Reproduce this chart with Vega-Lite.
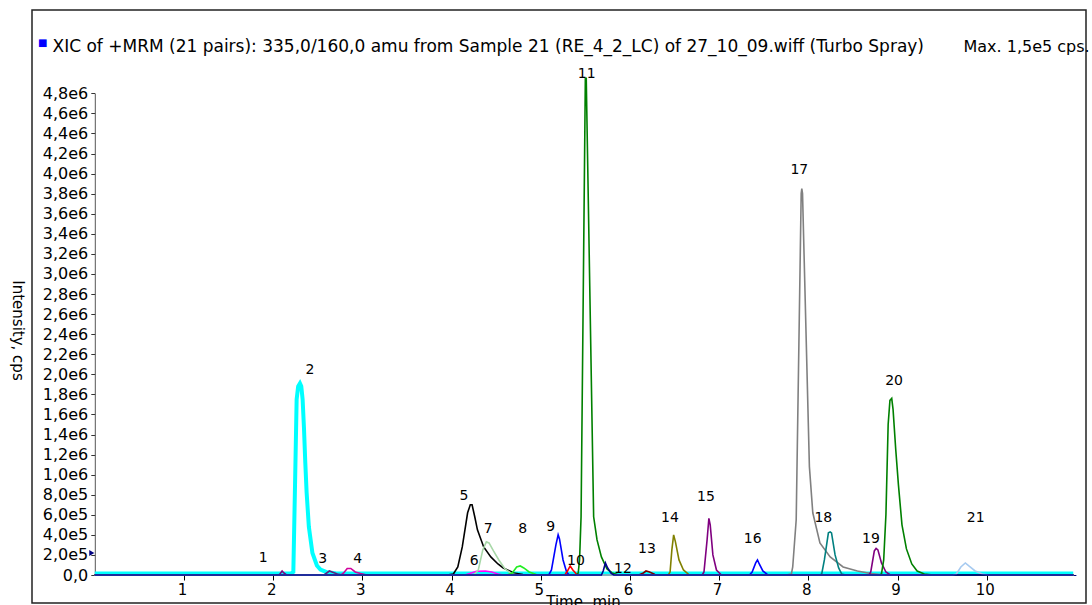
{
  "$schema": "https://vega.github.io/schema/vega-lite/v6.json",
  "width": 1054,
  "height": 593,
  "autosize": {"type": "none"},
  "padding": {"left": 32, "top": 10, "right": 6, "bottom": 2},
  "background": "white",
  "config": {"view": {"stroke": "#222222", "strokeWidth": 1.5}, "font": "DejaVu Sans"},
  "title": {"text": "■", "anchor": "start", "frame": "group", "orient": "top", "offset": 0, "dx": 6, "dy": 38, "fontSize": 10, "fontWeight": "normal", "color": "#0000FF"},
  "datasets": {
    "traces": [
      {"p":"2","t":0,"v":15000},{"p":"2","t":2.20,"v":15000},{"p":"2","t":2.226,"v":30000},{"p":"2","t":2.245,"v":900000},{"p":"2","t":2.263,"v":1750000},{"p":"2","t":2.28,"v":1880000},{"p":"2","t":2.30,"v":1910000},{"p":"2","t":2.315,"v":1880000},{"p":"2","t":2.33,"v":1750000},{"p":"2","t":2.345,"v":1470000},{"p":"2","t":2.36,"v":1120000},{"p":"2","t":2.375,"v":820000},{"p":"2","t":2.40,"v":480000},{"p":"2","t":2.44,"v":220000},{"p":"2","t":2.49,"v":95000},{"p":"2","t":2.53,"v":55000},{"p":"2","t":2.60,"v":28000},{"p":"2","t":2.70,"v":18000},{"p":"2","t":2.80,"v":15000},{"p":"2","t":10.97,"v":15000},
      {"p":"1","t":0,"v":0},{"p":"1","t":2.06,"v":0},{"p":"1","t":2.08,"v":15000},{"p":"1","t":2.10,"v":40000},{"p":"1","t":2.12,"v":20000},{"p":"1","t":2.15,"v":0},{"p":"1","t":10.97,"v":0},
      {"p":"3","t":0,"v":0},{"p":"3","t":2.57,"v":0},{"p":"3","t":2.60,"v":20000},{"p":"3","t":2.63,"v":40000},{"p":"3","t":2.66,"v":30000},{"p":"3","t":2.72,"v":10000},{"p":"3","t":2.78,"v":0},{"p":"3","t":10.97,"v":0},
      {"p":"4","t":0,"v":0},{"p":"4","t":2.76,"v":0},{"p":"4","t":2.79,"v":20000},{"p":"4","t":2.83,"v":65000},{"p":"4","t":2.87,"v":65000},{"p":"4","t":2.92,"v":30000},{"p":"4","t":2.98,"v":15000},{"p":"4","t":3.05,"v":0},{"p":"4","t":10.97,"v":0},
      {"p":"5","t":0,"v":0},{"p":"5","t":3.95,"v":0},{"p":"5","t":4.02,"v":10000},{"p":"5","t":4.07,"v":80000},{"p":"5","t":4.12,"v":280000},{"p":"5","t":4.18,"v":620000},{"p":"5","t":4.21,"v":700000},{"p":"5","t":4.23,"v":700000},{"p":"5","t":4.26,"v":580000},{"p":"5","t":4.29,"v":450000},{"p":"5","t":4.36,"v":280000},{"p":"5","t":4.44,"v":180000},{"p":"5","t":4.52,"v":110000},{"p":"5","t":4.58,"v":70000},{"p":"5","t":4.70,"v":20000},{"p":"5","t":4.80,"v":5000},{"p":"5","t":4.90,"v":0},{"p":"5","t":10.97,"v":0},
      {"p":"6","t":0,"v":0},{"p":"6","t":4.15,"v":0},{"p":"6","t":4.22,"v":20000},{"p":"6","t":4.28,"v":38000},{"p":"6","t":4.38,"v":40000},{"p":"6","t":4.45,"v":30000},{"p":"6","t":4.52,"v":10000},{"p":"6","t":4.58,"v":0},{"p":"6","t":10.97,"v":0},
      {"p":"7","t":0,"v":0},{"p":"7","t":4.25,"v":0},{"p":"7","t":4.30,"v":50000},{"p":"7","t":4.35,"v":250000},{"p":"7","t":4.39,"v":330000},{"p":"7","t":4.42,"v":320000},{"p":"7","t":4.47,"v":240000},{"p":"7","t":4.53,"v":150000},{"p":"7","t":4.60,"v":60000},{"p":"7","t":4.68,"v":10000},{"p":"7","t":4.75,"v":0},{"p":"7","t":10.97,"v":0},
      {"p":"8","t":0,"v":0},{"p":"8","t":4.62,"v":0},{"p":"8","t":4.68,"v":20000},{"p":"8","t":4.73,"v":80000},{"p":"8","t":4.77,"v":90000},{"p":"8","t":4.81,"v":70000},{"p":"8","t":4.87,"v":30000},{"p":"8","t":4.95,"v":5000},{"p":"8","t":5.00,"v":0},{"p":"8","t":10.97,"v":0},
      {"p":"9","t":0,"v":0},{"p":"9","t":5.09,"v":0},{"p":"9","t":5.12,"v":50000},{"p":"9","t":5.17,"v":300000},{"p":"9","t":5.195,"v":400000},{"p":"9","t":5.21,"v":360000},{"p":"9","t":5.25,"v":150000},{"p":"9","t":5.29,"v":30000},{"p":"9","t":5.32,"v":0},{"p":"9","t":10.97,"v":0},
      {"p":"10","t":0,"v":0},{"p":"10","t":5.27,"v":0},{"p":"10","t":5.30,"v":40000},{"p":"10","t":5.33,"v":90000},{"p":"10","t":5.36,"v":50000},{"p":"10","t":5.40,"v":10000},{"p":"10","t":5.45,"v":0},{"p":"10","t":10.97,"v":0},
      {"p":"11","t":0,"v":0},{"p":"11","t":5.40,"v":0},{"p":"11","t":5.42,"v":20000},{"p":"11","t":5.435,"v":150000},{"p":"11","t":5.452,"v":580000},{"p":"11","t":5.50,"v":4950000},{"p":"11","t":5.51,"v":4950000},{"p":"11","t":5.593,"v":580000},{"p":"11","t":5.631,"v":350000},{"p":"11","t":5.68,"v":180000},{"p":"11","t":5.743,"v":60000},{"p":"11","t":5.80,"v":20000},{"p":"11","t":5.86,"v":5000},{"p":"11","t":5.95,"v":0},{"p":"11","t":10.97,"v":0},
      {"p":"13","t":0,"v":0},{"p":"13","t":6.10,"v":0},{"p":"13","t":6.15,"v":20000},{"p":"13","t":6.18,"v":40000},{"p":"13","t":6.22,"v":30000},{"p":"13","t":6.28,"v":5000},{"p":"13","t":6.33,"v":0},{"p":"13","t":10.97,"v":0},
      {"p":"14","t":0,"v":0},{"p":"14","t":6.43,"v":0},{"p":"14","t":6.45,"v":30000},{"p":"14","t":6.47,"v":250000},{"p":"14","t":6.49,"v":400000},{"p":"14","t":6.51,"v":330000},{"p":"14","t":6.55,"v":150000},{"p":"14","t":6.60,"v":50000},{"p":"14","t":6.66,"v":5000},{"p":"14","t":6.70,"v":0},{"p":"14","t":10.97,"v":0},
      {"p":"15","t":0,"v":0},{"p":"15","t":6.81,"v":0},{"p":"15","t":6.83,"v":30000},{"p":"15","t":6.865,"v":350000},{"p":"15","t":6.885,"v":565000},{"p":"15","t":6.90,"v":500000},{"p":"15","t":6.93,"v":200000},{"p":"15","t":6.97,"v":50000},{"p":"15","t":7.02,"v":5000},{"p":"15","t":7.06,"v":0},{"p":"15","t":10.97,"v":0},
      {"p":"16","t":0,"v":0},{"p":"16","t":7.34,"v":0},{"p":"16","t":7.37,"v":30000},{"p":"16","t":7.41,"v":120000},{"p":"16","t":7.43,"v":150000},{"p":"16","t":7.45,"v":110000},{"p":"16","t":7.49,"v":40000},{"p":"16","t":7.54,"v":5000},{"p":"16","t":7.58,"v":0},{"p":"16","t":10.97,"v":0},
      {"p":"17","t":0,"v":0},{"p":"17","t":7.75,"v":0},{"p":"17","t":7.81,"v":10000},{"p":"17","t":7.825,"v":80000},{"p":"17","t":7.864,"v":550000},{"p":"17","t":7.92,"v":3800000},{"p":"17","t":7.927,"v":3850000},{"p":"17","t":7.935,"v":3800000},{"p":"17","t":8.012,"v":1080000},{"p":"17","t":8.05,"v":620000},{"p":"17","t":8.13,"v":320000},{"p":"17","t":8.245,"v":180000},{"p":"17","t":8.39,"v":80000},{"p":"17","t":8.55,"v":40000},{"p":"17","t":8.70,"v":15000},{"p":"17","t":8.85,"v":0},{"p":"17","t":10.97,"v":0},
      {"p":"18","t":0,"v":0},{"p":"18","t":8.13,"v":0},{"p":"18","t":8.15,"v":10000},{"p":"18","t":8.18,"v":150000},{"p":"18","t":8.225,"v":420000},{"p":"18","t":8.245,"v":430000},{"p":"18","t":8.26,"v":420000},{"p":"18","t":8.30,"v":200000},{"p":"18","t":8.34,"v":70000},{"p":"18","t":8.375,"v":10000},{"p":"18","t":8.42,"v":0},{"p":"18","t":10.97,"v":0},
      {"p":"19","t":0,"v":0},{"p":"19","t":8.68,"v":0},{"p":"19","t":8.70,"v":30000},{"p":"19","t":8.74,"v":240000},{"p":"19","t":8.76,"v":265000},{"p":"19","t":8.78,"v":250000},{"p":"19","t":8.82,"v":120000},{"p":"19","t":8.87,"v":30000},{"p":"19","t":8.92,"v":0},{"p":"19","t":10.97,"v":0},
      {"p":"20","t":0,"v":0},{"p":"20","t":8.80,"v":0},{"p":"20","t":8.82,"v":10000},{"p":"20","t":8.845,"v":150000},{"p":"20","t":8.87,"v":600000},{"p":"20","t":8.895,"v":1500000},{"p":"20","t":8.915,"v":1740000},{"p":"20","t":8.935,"v":1760000},{"p":"20","t":8.95,"v":1650000},{"p":"20","t":8.98,"v":1250000},{"p":"20","t":9.01,"v":900000},{"p":"20","t":9.05,"v":500000},{"p":"20","t":9.10,"v":260000},{"p":"20","t":9.16,"v":110000},{"p":"20","t":9.22,"v":40000},{"p":"20","t":9.30,"v":10000},{"p":"20","t":9.40,"v":0},{"p":"20","t":10.97,"v":0},
      {"p":"21","t":0,"v":0},{"p":"21","t":9.62,"v":0},{"p":"21","t":9.66,"v":10000},{"p":"21","t":9.71,"v":80000},{"p":"21","t":9.76,"v":120000},{"p":"21","t":9.80,"v":90000},{"p":"21","t":9.87,"v":40000},{"p":"21","t":9.95,"v":10000},{"p":"21","t":10.02,"v":0},{"p":"21","t":10.97,"v":0},
      {"p":"12","t":0,"v":0},{"p":"12","t":5.68,"v":0},{"p":"12","t":5.70,"v":40000},{"p":"12","t":5.725,"v":120000},{"p":"12","t":5.75,"v":70000},{"p":"12","t":5.79,"v":15000},{"p":"12","t":5.82,"v":0},{"p":"12","t":10.97,"v":0}
    ],
    "labels": [
      {"p":"1","t":1.889,"v":166000},{"p":"2","t":2.413,"v":2040000},{"p":"3","t":2.555,"v":159000},{"p":"4","t":2.948,"v":159000},
      {"p":"5","t":4.14,"v":790000},{"p":"6","t":4.254,"v":144000},{"p":"7","t":4.412,"v":458000},{"p":"8","t":4.798,"v":455000},
      {"p":"9","t":5.112,"v":475000},{"p":"10","t":5.395,"v":139000},{"p":"11","t":5.515,"v":4990000},{"p":"12","t":5.922,"v":57000},
      {"p":"13","t":6.191,"v":256000},{"p":"14","t":6.449,"v":565000},{"p":"15","t":6.853,"v":780000},{"p":"16","t":7.376,"v":358000},
      {"p":"17","t":7.899,"v":4040000},{"p":"18","t":8.168,"v":571000},{"p":"19","t":8.703,"v":358000},{"p":"20","t":8.961,"v":1930000},
      {"p":"21","t":9.877,"v":571000}
    ],
    "marker": [{"t":0,"v":220000}]
  },
  "resolve": {"axis": {"x": "independent", "y": "independent"}},
  "layer": [
    {
      "data": {"name": "traces"},
      "mark": {"type": "line", "clip": false},
      "encoding": {
        "x": {"field": "t", "type": "quantitative",
          "scale": {"domain": [0, 11], "range": [62.8, 1043.9], "nice": false, "zero": false},
          "axis": {"orient": "bottom", "offset": -28, "values": [1,2,3,4,5,6,7,8,9,10], "tickSize": 5, "tickColor": "#000000", "labelPadding": 2, "labelOffset": -2, "labelFontSize": 15, "labelColor": "#000000", "labelFont": "DejaVu Sans", "domainColor": "#000080", "grid": false,
            "title": "Time, min", "titleX": 551, "titleY": 31, "titleAlign": "center", "titleBaseline": "alphabetic", "titleFontSize": 15, "titleFontWeight": "normal", "titleFont": "DejaVu Sans", "titleColor": "#000000"}},
        "y": {"field": "v", "type": "quantitative",
          "scale": {"domain": [0, 4800000], "range": [565, 83.3], "nice": false, "zero": true},
          "axis": {"orient": "left", "offset": -62.8,
            "values": [0,200000,400000,600000,800000,1000000,1200000,1400000,1600000,1800000,2000000,2200000,2400000,2600000,2800000,3000000,3200000,3400000,3600000,3800000,4000000,4200000,4400000,4600000,4800000],
            "labelExpr": "datum.value == 0 ? '0,0' : (datum.value < 1000000 ? replace(format(datum.value / 100000, '.1f'), '.', ',') + 'e5' : replace(format(datum.value / 1000000, '.1f'), '.', ',') + 'e6')",
            "tickSize": 4, "tickColor": "#333333", "labelPadding": 3, "labelFontSize": 16, "labelColor": "#000000", "labelFont": "DejaVu Sans", "domainColor": "#555555", "grid": false,
            "title": "Intensity, cps", "titleAngle": 90, "titleX": -77.8, "titleY": 320, "titleAlign": "center", "titleBaseline": "middle", "titleFontSize": 15, "titleFontWeight": "normal", "titleFont": "DejaVu Sans", "titleColor": "#000000"}},
        "color": {"field": "p", "type": "nominal", "legend": null,
          "scale": {"domain": ["1","2","3","4","5","6","7","8","9","10","11","12","13","14","15","16","17","18","19","20","21"],
            "range": ["#800080","#00FFFF","#602080","#D0009C","#000000","#FF00FF","#A8D8A8","#22EE22","#0000FF","#FF0000","#008000","#000090","#800000","#808000","#800080","#0000FF","#808080","#008080","#800080","#008000","#A6CAF0"]}},
        "strokeWidth": {"condition": {"test": "datum.p === '2'", "value": 4}, "value": 1.6}
      }
    },
    {
      "data": {"name": "labels"},
      "mark": {"type": "text", "fontSize": 14, "font": "DejaVu Sans", "align": "center", "baseline": "middle", "color": "#000000", "clip": false},
      "encoding": {
        "x": {"field": "t", "type": "quantitative",
          "scale": {"domain": [0, 11], "range": [62.8, 1043.9], "nice": false, "zero": false},
          "axis": {"orient": "top", "domain": false, "ticks": false, "labels": false, "grid": false,
            "title": "XIC of +MRM (21 pairs): 335,0/160,0 amu from Sample 21 (RE_4_2_LC) of 27_10_09.wiff (Turbo Spray)",
            "titleX": 20, "titleY": 41, "titleAlign": "left", "titleAnchor": "start", "titleBaseline": "alphabetic", "titleFontSize": 17, "titleFontWeight": "normal", "titleFont": "DejaVu Sans", "titleColor": "#000000"}},
        "y": {"field": "v", "type": "quantitative",
          "scale": {"domain": [0, 4800000], "range": [565, 83.3], "nice": false, "zero": true},
          "axis": {"orient": "right", "domain": false, "ticks": false, "labels": false, "grid": false,
            "title": "Max. 1,5e5 cps.", "titleAngle": 0, "titleX": -123, "titleY": 41, "titleAlign": "left", "titleAnchor": "start", "titleBaseline": "alphabetic", "titleFontSize": 16, "titleFontWeight": "normal", "titleFont": "DejaVu Sans", "titleColor": "#000000"}},
        "text": {"field": "p", "type": "nominal"}
      }
    },
    {
      "data": {"name": "marker"},
      "mark": {"type": "point", "shape": "triangle-right", "filled": true, "size": 35, "color": "#000080", "opacity": 1, "xOffset": -3, "clip": false},
      "encoding": {
        "x": {"field": "t", "type": "quantitative", "scale": {"domain": [0, 11], "range": [62.8, 1043.9], "nice": false, "zero": false}, "axis": null},
        "y": {"field": "v", "type": "quantitative", "scale": {"domain": [0, 4800000], "range": [565, 83.3], "nice": false, "zero": true}, "axis": null}
      }
    }
  ]
}
